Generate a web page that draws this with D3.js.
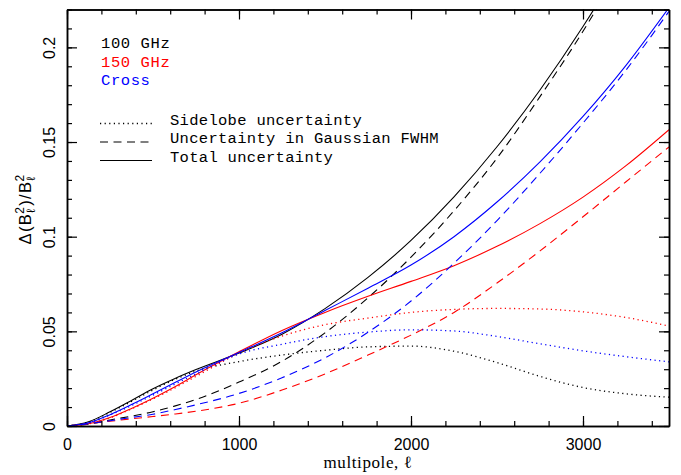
<!DOCTYPE html>
<html><head><meta charset="utf-8">
<script src="https://cdn.jsdelivr.net/npm/d3@7"></script>
<style>body{margin:0;background:#fff}</style>
</head><body>
<svg id="c" width="681" height="475"></svg>
<script>
// multipole grid
const ells = [0,125,250,375,500,625,750,1000,1250,1500,1750,2000,2250,2500,2750,3000,3250,3500];
// 100 GHz
const side100  = [0,0.0021,0.0072,0.0130,0.0190,0.0245,0.0290,0.0340,0.0375,0.0400,0.0418,0.0422,0.0395,0.0335,0.0262,0.0203,0.0170,0.0152];
const gauss100 = [0,0.0010,0.0032,0.0052,0.0075,0.0105,0.0140,0.0232,0.0342,0.0492,0.0677,0.0892,0.1137,0.1415,0.1740,0.2085,0.2470,0.2870];
const total100 = [0,0.0022,0.0075,0.0135,0.0197,0.0250,0.0298,0.0385,0.0485,0.0620,0.0785,0.0980,0.1210,0.1475,0.1775,0.2110,0.2480,0.2880];
// 150 GHz
const side150  = [0,0.0011,0.0043,0.0090,0.0143,0.0200,0.0262,0.0385,0.0475,0.0535,0.0570,0.0600,0.0616,0.0621,0.0618,0.0603,0.0573,0.0528];
const gauss150 = [0,0.0013,0.0025,0.0038,0.0050,0.0063,0.0078,0.0120,0.0190,0.0275,0.0375,0.0480,0.0600,0.0755,0.0925,0.1105,0.1290,0.1474];
const total150 = [0,0.0012,0.0045,0.0093,0.0147,0.0206,0.0271,0.0392,0.0505,0.0600,0.0685,0.0764,0.0847,0.0949,0.1069,0.1209,0.1375,0.1565];
// Cross
const sideX    = [0,0.0016,0.0058,0.0108,0.0163,0.0220,0.0275,0.0380,0.0432,0.0472,0.0496,0.0508,0.0502,0.0473,0.0434,0.0397,0.0366,0.0339];
const gaussX   = [0,0.0012,0.0028,0.0045,0.0062,0.0086,0.0112,0.0172,0.0255,0.0360,0.0495,0.0660,0.0860,0.1085,0.1335,0.1600,0.1880,0.2190];
const totalX   = [0,0.0017,0.0060,0.0113,0.0170,0.0228,0.0285,0.0388,0.0492,0.0610,0.0728,0.0850,0.1000,0.1183,0.1395,0.1635,0.1905,0.2210];

const xMajor = [0,1000,2000,3000];
const xMinor = d3.range(0,3501,200);
const yMajor = [0,0.05,0.1,0.15,0.2];
const yMinor = d3.range(0,0.2201,0.01);
const yLabels = ["0","0.05","0.1","0.15","0.2"];
const freqLabels = ["100 GHz","150 GHz","Cross"];
const styleLabels = ["Sidelobe uncertainty","Uncertainty in Gaussian FWHM","Total uncertainty"];
const colors = ["#000000","#ff0000","#0000ff"];

const L=67, R=669, T=9.5, B=426;
const svg = d3.select("#c");
const x = d3.scaleLinear().domain([0,3500]).range([L,R]);
const y = d3.scaleLinear().domain([0,0.22]).range([B,T]);

const dashes = {side:"1.2,3.4", gauss:"8,5.5", total:null};
const series = [
  {c:0,k:"side",v:side100},{c:0,k:"gauss",v:gauss100},{c:0,k:"total",v:total100},
  {c:1,k:"side",v:side150},{c:1,k:"gauss",v:gauss150},{c:1,k:"total",v:total150},
  {c:2,k:"side",v:sideX},{c:2,k:"gauss",v:gaussX},{c:2,k:"total",v:totalX}
];

svg.append("defs").append("clipPath").attr("id","clip")
  .append("rect").attr("x",L).attr("y",T).attr("width",R-L).attr("height",B-T);

const line = d3.line().x(d=>x(d[0])).y(d=>y(d[1])).curve(d3.curveMonotoneX);
const g = svg.append("g").attr("clip-path","url(#clip)");
series.forEach(s=>{
  g.append("path").datum(ells.map((l,i)=>[l,s.v[i]]))
    .attr("d",line).attr("fill","none").attr("stroke",colors[s.c])
    .attr("stroke-width",s.k==="side"?1.3:1.1)
    .attr("stroke-dasharray",dashes[s.k]);
});

// axes with inward ticks on all sides
function ax(gen, tr, vals, size){
  const a = svg.append("g").attr("transform",tr)
    .call(gen.tickValues(vals).tickSize(size).tickSizeOuter(0).tickFormat(""));
  a.selectAll("line").attr("stroke","#000").attr("stroke-width",1.2);
  a.select(".domain").attr("stroke","#000").attr("stroke-width",1.5);
  return a;
}
ax(d3.axisBottom(x),`translate(0,${B})`,xMinor,-5);
ax(d3.axisBottom(x),`translate(0,${B})`,xMajor,-10);
ax(d3.axisTop(x),`translate(0,${T})`,xMinor,-5);
ax(d3.axisTop(x),`translate(0,${T})`,xMajor,-10);
ax(d3.axisLeft(y),`translate(${L},0)`,yMinor,-5);
ax(d3.axisLeft(y),`translate(${L},0)`,yMajor,-10);
ax(d3.axisRight(y),`translate(${R},0)`,yMinor,-5);
ax(d3.axisRight(y),`translate(${R},0)`,yMajor,-10);

// tick labels
const xl = svg.append("g").attr("transform",`translate(0,${B})`)
  .call(d3.axisBottom(x).tickValues(xMajor).tickSize(0).tickPadding(13).tickFormat(d3.format("d")));
xl.select(".domain").remove();
xl.selectAll("text").attr("font-family","Liberation Sans, Arial, sans-serif").attr("font-size",16).attr("fill","#000");

const yl = svg.append("g").attr("transform",`translate(${L},0)`)
  .call(d3.axisLeft(y).tickValues(yMajor).tickSize(0).tickFormat((d,i)=>yLabels[i]));
yl.select(".domain").remove();
yl.selectAll(".tick text").attr("transform","rotate(-90)").attr("x",0).attr("y",-12).attr("dy",0)
  .attr("text-anchor","middle")
  .attr("font-family","Liberation Sans, Arial, sans-serif").attr("font-size",16).attr("fill","#000");

// axis titles
svg.append("text").attr("x",(L+R)/2).attr("y",468).attr("text-anchor","middle")
  .attr("font-family","Liberation Serif, Times New Roman, serif").attr("font-size",17)
  .attr("letter-spacing",0.6).text("multipole, ℓ");

const yt = svg.append("text").attr("transform","translate(31,209) rotate(-90)").attr("text-anchor","middle")
  .attr("font-family","Liberation Sans, Arial, sans-serif").attr("font-size",16.5).attr("letter-spacing",1.3);
yt.append("tspan").text("Δ(B");
yt.append("tspan").attr("font-size",12).attr("dy",4).text("ℓ");
yt.append("tspan").attr("font-size",12).attr("dx",-6).attr("dy",-11).text("2");
yt.append("tspan").attr("dy",7).text(")/B");
yt.append("tspan").attr("font-size",12).attr("dy",4).text("ℓ");
yt.append("tspan").attr("font-size",12).attr("dx",-6).attr("dy",-11).text("2");

// legends
const mono = "Liberation Mono, DejaVu Sans Mono, monospace";
freqLabels.forEach((t,i)=>{
  svg.append("text").attr("x",101).attr("y",48+i*18.5).attr("fill",colors[i])
    .attr("font-family",mono).attr("font-size",15.5).attr("letter-spacing",0.6).text(t);
});
["side","gauss","total"].forEach((k,i)=>{
  const yy = 123.5+i*18.5;
  svg.append("line").attr("x1",100).attr("x2",152).attr("y1",yy).attr("y2",yy)
    .attr("stroke","#000").attr("stroke-width",k==="side"?1.3:1.1).attr("stroke-dasharray",dashes[k]);
  svg.append("text").attr("x",170).attr("y",124.5+i*18.5).attr("fill","#000")
    .attr("font-family",mono).attr("font-size",15.5).attr("letter-spacing",0.3).text(styleLabels[i]);
});
</script>
</body></html>
